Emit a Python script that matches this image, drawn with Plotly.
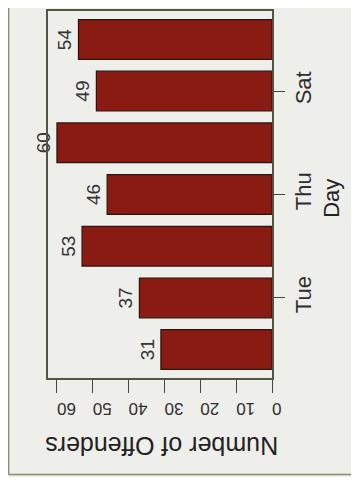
import plotly.graph_objects as go

# data (the scanned chart is turned 90 degrees, so bars run right-to-left)
days = ["Mon", "Tue", "Wed", "Thu", "Fri", "Sat", "Sun"]
offenders = [31, 37, 53, 46, 60, 49, 54]
day_ticks = ["Tue", "Thu", "Sat"]
value_ticks = [0, 10, 20, 30, 40, 50, 60]

bar_red = "#8a1b13"
frame = "#55553f"
bg = "#eeeeeb"
font = "Liberation Sans"

fig = go.Figure()

fig.add_trace(
    go.Bar(
        x=offenders,
        y=days,
        orientation="h",
        marker=dict(color=bar_red, line=dict(color="#2b1410", width=1.2)),
        width=0.77,
        text=[str(v) for v in offenders],
        textposition="outside",
        textangle=-90,
        textfont=dict(family=font, size=19, color="#333333"),
        cliponaxis=False,
        constraintext="none",
        showlegend=False,
    )
)

# page body keeps an 8px margin all round, so the figure is 16px smaller than the window
fig.update_layout(
    width=343,
    height=469,
    margin=dict(l=40, r=79, t=1, b=99),
    paper_bgcolor=bg,
    plot_bgcolor=bg,
    font=dict(family=font, color="#333333"),
    xaxis=dict(
        range=[62.5, 0],
        tickvals=value_ticks,
        tickangle=180,
        ticks="outside",
        ticklen=13,
        tickcolor="#444444",
        ticklabelstandoff=7,
        tickfont=dict(size=17, color="#2e2e2e"),
        showgrid=False,
        zeroline=False,
        showline=True,
        mirror=True,
        linecolor=frame,
        linewidth=1.5,
    ),
    yaxis=dict(
        categoryorder="array",
        categoryarray=days,
        range=[-0.55, 6.55],
        side="right",
        tickvals=day_ticks,
        tickangle=-90,
        ticks="outside",
        ticklen=11,
        tickcolor="#444444",
        ticklabelstandoff=0,
        tickfont=dict(size=22, color="#2e2e2e"),
        showgrid=False,
        zeroline=False,
        showline=True,
        mirror=True,
        linecolor=frame,
        linewidth=1.5,
    ),
    annotations=[
        dict(
            text="Number of Offenders",
            x=0.507, y=-0.185, xref="paper", yref="paper",
            xanchor="center", yanchor="middle",
            showarrow=False, textangle=180,
            font=dict(size=25, color="#222222"),
        ),
        dict(
            text="Day",
            x=1.262, y=0.49, xref="paper", yref="paper",
            xanchor="center", yanchor="middle",
            showarrow=False, textangle=-90,
            font=dict(size=22, color="#222222"),
        ),
    ],
    shapes=[
        dict(type="line", xref="paper", yref="paper", x0=-0.176, x1=-0.176, y0=-0.263, y1=1.1,
             line=dict(color="#8a8a72", width=1.5)),
        dict(type="line", xref="paper", yref="paper", x0=-0.176, x1=1.5, y0=-0.263, y1=-0.263,
             line=dict(color="#8a8a72", width=1.5)),
    ],
)

fig.write_html("out.html")
